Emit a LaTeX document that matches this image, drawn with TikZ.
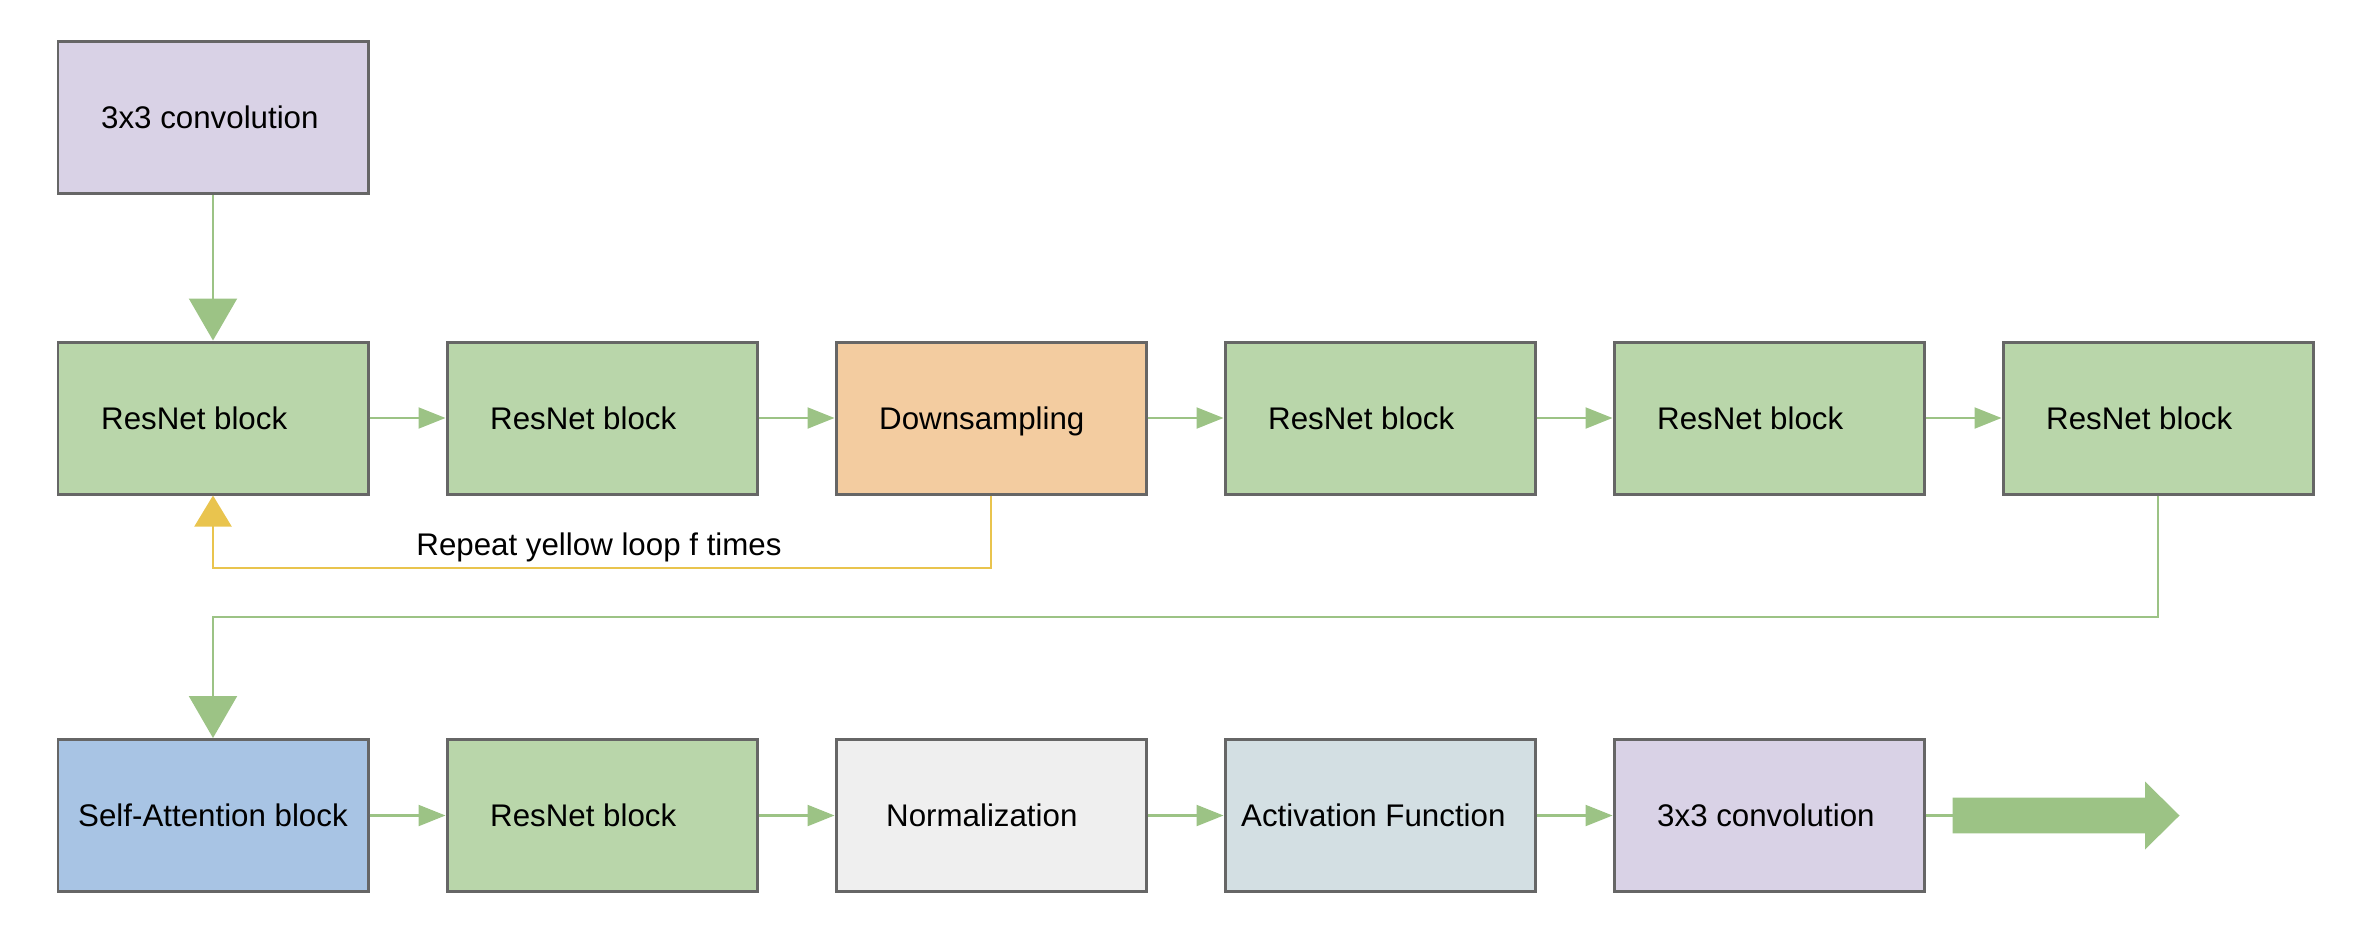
\documentclass[tikz,border=0pt]{standalone}
\usepackage{fontspec}
\setmainfont{Liberation Sans}
\usepackage{xcolor}
\usepackage{tikz}
\usetikzlibrary{arrows.meta}

\definecolor{blockgreen}{HTML}{B9D6AA}
\definecolor{convpurple}{HTML}{D9D2E6}
\definecolor{downorange}{HTML}{F3CCA0}
\definecolor{attnblue}{HTML}{A8C4E4}
\definecolor{normgray}{HTML}{EFEFEF}
\definecolor{actcyan}{HTML}{D3DFE3}
\definecolor{linegreen}{HTML}{9CC385}
\definecolor{loopyellow}{HTML}{E9C44E}
\definecolor{edgegray}{HTML}{666666}

\tikzset{
	blockbox/.style={draw=edgegray, line width=0.85pt, minimum width=3.1cm, minimum height=1.52cm, inner sep=0pt},
	blocklabel/.style={anchor=base west, inner sep=0pt, font=\fontsize{8.9pt}{10pt}\selectfont},
	flow/.style={draw=linegreen, line width=0.6pt, -{Triangle[length=0.27cm,width=0.21cm]}},
	bigflow/.style={draw=linegreen, line width=0.6pt, -{Triangle[length=0.42cm,width=0.48cm]}},
	yellowloop/.style={draw=loopyellow, line width=0.6pt, -{Triangle[length=0.31cm,width=0.37cm]}}
}

\begin{document}
\begin{tikzpicture}
			\useasboundingbox (0,0) rectangle (23.76,-9.32);
			
			% boxes: name / x / y / fill / label / label offset from the left side
			\foreach \name/\x/\y/\col/\lbl/\pad in
			{conva/2.13/-1.175/convpurple/3x3 convolution/0.44,
				resa/2.13/-4.18/blockgreen/ResNet block/0.44,
				resb/6.02/-4.18/blockgreen/ResNet block/0.44,
				down/9.91/-4.18/downorange/Downsampling/0.44,
				resc/13.80/-4.18/blockgreen/ResNet block/0.44,
				resd/17.69/-4.18/blockgreen/ResNet block/0.44,
				rese/21.58/-4.18/blockgreen/ResNet block/0.44,
				attn/2.13/-8.155/attnblue/Self-Attention block/0.21,
				resf/6.02/-8.155/blockgreen/ResNet block/0.44,
				norm/9.91/-8.155/normgray/Normalization/0.51,
				act/13.80/-8.155/actcyan/Activation Function/0.17,
				convb/17.69/-8.155/convpurple/3x3 convolution/0.44}{
				\node[blockbox, fill=\col] (\name) at (\x,\y) {};
				\node[blocklabel] (\name-label) at ([xshift=\pad cm, yshift=-3.2pt]\name.west) {\lbl};
			}
			
			% straight connectors
			\draw[bigflow] (conva) -- (resa);
			\foreach \a/\b in {resa/resb, resb/down, down/resc, resc/resd, resd/rese, attn/resf, resf/norm, norm/act, act/convb}{
				\draw[flow] (\a) -- (\b);
			}
			
			% the yellow loop back to the first resnet block
			\draw[yellowloop] (down.south) -- (down.south |- 0,-5.68) -| (resa.south);
			\node[anchor=base, inner sep=0pt, font=\fontsize{8.9pt}{10pt}\selectfont] (looplabel) at (5.99,-5.55) {Repeat yellow loop f times};
			
			% long way round to the second row
			\draw[bigflow] (rese.south) -- (rese.south |- 0,-6.17) -| (attn.north);
			
			% fat output arrow
			\draw[linegreen, line width=0.6pt] (convb.east) -- ++(0.27,0) coordinate (outstart);
			\fill[linegreen] (outstart) ++(0,0.178) -- ++(1.925,0) -- ++(0,0.162) -- ++(0.345,-0.34) -- ++(-0.345,-0.34) -- ++(0,0.162) -- ++(-1.925,0) -- cycle;
		\end{tikzpicture}
\end{document}
